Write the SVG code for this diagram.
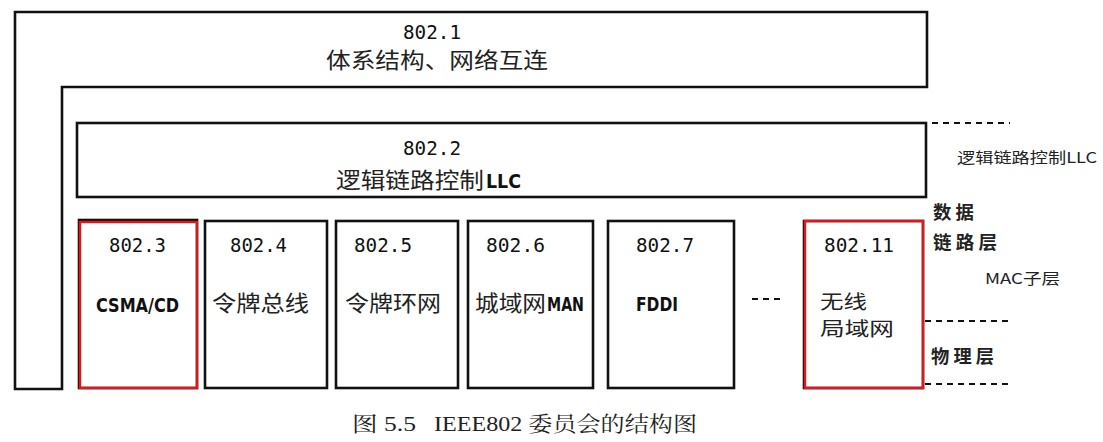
<svg xmlns="http://www.w3.org/2000/svg" width="1103" height="442" viewBox="0 0 1103 442">
<style>
.box{fill:none;stroke:#111;stroke-width:2.6}
.red{fill:none;stroke:#e0161b;stroke-width:2.4}
.num{font-family:"DejaVu Sans Mono","Liberation Mono",monospace;font-size:20px;fill:#111}
.cjk{font-family:"Noto Sans CJK SC","Noto Sans",sans-serif;font-size:22px;fill:#222}
.cjks{font-family:"Noto Sans CJK SC","Noto Sans",sans-serif;font-size:19px;fill:#222}
.lat{font-family:"DejaVu Sans","Liberation Sans",sans-serif;font-size:20px;font-weight:bold;fill:#111}
.side{font-family:"Noto Sans CJK SC","Noto Sans",sans-serif;font-size:15px;fill:#222}
.sideb{font-family:"Noto Sans CJK SC","Noto Sans",sans-serif;font-size:18px;font-weight:bold;fill:#222}
.cap{font-family:"Liberation Serif","Noto Serif CJK SC","Noto Sans CJK SC",serif;font-size:21px;fill:#222}
.dash{stroke:#111;stroke-width:2.2;stroke-dasharray:6 5;fill:none}
</style>
<rect width="1103" height="442" fill="#fff"/>
<g id="n8021">
<path class="box" d="M15,12 H927 V87 H62 V389 H15 Z"/>
<text class="num" x="403" y="39" textLength="58" lengthAdjust="spacingAndGlyphs">802.1</text>
<text class="cjk" x="326" y="68" textLength="222" lengthAdjust="spacingAndGlyphs">体系结构、网络互连</text>
</g>
<g id="n8022">
<rect class="box" x="77" y="123" width="849" height="74"/>
<text class="num" x="403" y="155" textLength="58" lengthAdjust="spacingAndGlyphs">802.2</text>
<text class="cjk" x="336" y="188" textLength="148" lengthAdjust="spacingAndGlyphs">逻辑链路控制</text>
<text class="lat" x="486" y="188" textLength="35" lengthAdjust="spacingAndGlyphs">LLC</text>
</g>
<g id="n8023">
<rect class="box" x="79" y="220" width="118" height="168"/>
<rect class="red" x="80" y="222" width="117" height="166"/>
<text class="num" x="109" y="252" textLength="57" lengthAdjust="spacingAndGlyphs">802.3</text>
<text class="lat" x="96" y="312" textLength="83" lengthAdjust="spacingAndGlyphs">CSMA/CD</text>
</g>
<g id="n8024">
<rect class="box" x="205" y="221" width="122" height="167"/>
<text class="num" x="230" y="252" textLength="57" lengthAdjust="spacingAndGlyphs">802.4</text>
<text class="cjk" x="212" y="311" textLength="97" lengthAdjust="spacingAndGlyphs">令牌总线</text>
</g>
<g id="n8025">
<rect class="box" x="336" y="221" width="122" height="167"/>
<text class="num" x="354" y="252" textLength="58" lengthAdjust="spacingAndGlyphs">802.5</text>
<text class="cjk" x="345" y="311" textLength="96" lengthAdjust="spacingAndGlyphs">令牌环网</text>
</g>
<g id="n8026">
<rect class="box" x="468" y="221" width="125" height="167"/>
<text class="num" x="486" y="252" textLength="59" lengthAdjust="spacingAndGlyphs">802.6</text>
<text class="cjk" x="475" y="311" textLength="71" lengthAdjust="spacingAndGlyphs">城域网</text>
<text class="lat" x="547" y="311" textLength="37" lengthAdjust="spacingAndGlyphs">MAN</text>
</g>
<g id="n8027">
<rect class="box" x="608" y="221" width="126" height="167"/>
<text class="num" x="636" y="252" textLength="58" lengthAdjust="spacingAndGlyphs">802.7</text>
<text class="lat" x="636" y="311" textLength="42" lengthAdjust="spacingAndGlyphs">FDDI</text>
</g>
<g id="ellipsis">
<line class="dash" x1="752" y1="299" x2="783" y2="299" stroke-dasharray="7 5"/>
</g>
<g id="n80211">
<rect class="box" x="804" y="221" width="119" height="167"/>
<rect class="red" x="805" y="221" width="118" height="167"/>
<text class="num" x="824" y="252" textLength="70" lengthAdjust="spacingAndGlyphs">802.11</text>
<text class="cjks" x="820" y="309" textLength="47" lengthAdjust="spacingAndGlyphs">无线</text>
<text class="cjks" x="820" y="336" textLength="74" lengthAdjust="spacingAndGlyphs">局域网</text>
</g>
<g id="connectors">
<line class="dash" x1="932" y1="123" x2="1010" y2="123"/>
<line class="dash" x1="925" y1="321" x2="1010" y2="321"/>
<line class="dash" x1="925" y1="384" x2="1010" y2="384"/>
</g>
<g id="labels">
<text class="side" x="957" y="163" textLength="140" lengthAdjust="spacingAndGlyphs">逻辑链路控制LLC</text>
<text class="sideb" x="933" y="219" textLength="41" lengthAdjust="spacingAndGlyphs">数 据</text>
<text class="sideb" x="933" y="249" textLength="64" lengthAdjust="spacingAndGlyphs">链 路 层</text>
<text class="side" x="985" y="284" textLength="75" lengthAdjust="spacingAndGlyphs">MAC子层</text>
<text class="sideb" x="931" y="363" textLength="63" lengthAdjust="spacingAndGlyphs">物 理 层</text>
</g>
<g id="caption">
<text class="cap" x="352" y="431" textLength="64" lengthAdjust="spacingAndGlyphs">图 5.5</text>
<text class="cap" x="434" y="431" textLength="263" lengthAdjust="spacingAndGlyphs">IEEE802 委员会的结构图</text>
</g>
</svg>
